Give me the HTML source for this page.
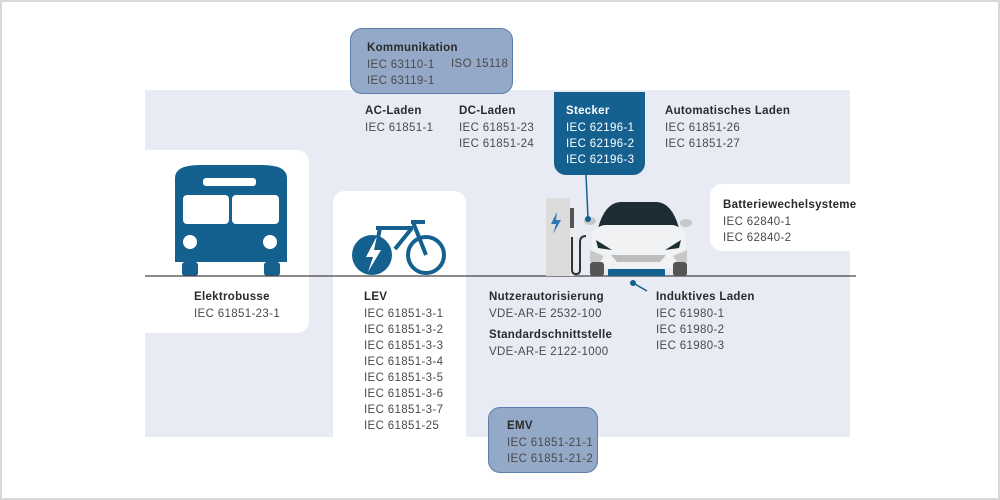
<!DOCTYPE html>
<html><head><meta charset="utf-8"><style>
*{margin:0;padding:0;box-sizing:border-box}
body{width:1000px;height:500px;background:#fff;position:relative;overflow:hidden;font-family:"Liberation Sans",sans-serif;color:#4a4a4a}
.frame{position:absolute;left:0;top:0;width:1000px;height:500px;border:2px solid #d9d9d9}
.a{position:absolute}
.t{position:absolute;font-size:11.5px;line-height:16px;white-space:nowrap;letter-spacing:0.35px}
.t b{font-weight:bold;color:#2a2a2a;display:block;margin-bottom:1px;letter-spacing:0.3px}
</style></head><body>
<div class="frame"></div>
<div class="a" style="left:145px;top:90px;width:705px;height:347px;background:#e8ebf4"></div>
<div class="a" style="left:145px;top:150px;width:164px;height:183px;background:#fff;border-radius:0 12px 12px 0"></div>
<div class="a" style="left:333px;top:191px;width:133px;height:246px;background:#fff;border-radius:12px 12px 0 0"></div>
<div class="a" style="left:710px;top:184px;width:145px;height:67px;background:#fff;border-radius:12px 0 0 12px"></div>
<div class="a" style="left:350px;top:28px;width:163px;height:66px;background:#94a9c7;border:1.5px solid #5b7fab;border-radius:12px"></div>
<div class="a" style="left:554px;top:92px;width:91px;height:83px;background:#14618f;border-radius:0 0 12px 12px"></div>
<div class="a" style="left:488px;top:407px;width:110px;height:66px;background:#94a9c7;border:1.5px solid #5b7fab;border-radius:12px"></div>

<svg class="a" style="left:0;top:0" width="1000" height="500">
<g fill="#14618f">
<path d="M175 178 Q175 165 200 165 L262 165 Q287 165 287 178 L287 262 L175 262Z"/>
<rect x="182" y="262" width="16" height="14" rx="3"/>
<rect x="264" y="262" width="16" height="14" rx="3"/>
</g>
<rect x="203" y="178" width="53" height="8" rx="3" fill="#fff"/>
<rect x="183" y="195" width="46" height="29" rx="4" fill="#fff"/>
<rect x="232" y="195" width="47" height="29" rx="4" fill="#fff"/>
<circle cx="190" cy="242" r="7" fill="#fff"/>
<circle cx="270" cy="242" r="7" fill="#fff"/>
<circle cx="372" cy="255" r="20" fill="#14618f"/>
<path d="M377 236 L366 257 L373 257 L368 272 L381 250 L374 250Z" fill="#fff"/>
<circle cx="426" cy="255" r="18" fill="none" stroke="#14618f" stroke-width="4"/>
<path d="M376 228 L413 228 M411 222 L425 222 M413 222 L426 255 M380 228 L378 238 M412 228 L395 249" stroke="#14618f" stroke-width="4" fill="none"/>
<line x1="145" y1="276" x2="856" y2="276" stroke="#444" stroke-width="1.2"/>
<rect x="546" y="198" width="24" height="78" fill="#dcdcdc"/>
<rect x="570" y="207" width="4" height="69" fill="#e9e9e9"/>
<rect x="570" y="208" width="4" height="20" fill="#555"/>
<path d="M557 212 L551 224 L556 224 L553 234 L561 220 L556 220Z" fill="#2a7ab8"/>
<path d="M572 237 L572 270 Q572 274 576 274 Q580 274 580 270 L580 242 Q580 236 586 236" stroke="#333" stroke-width="2" fill="none"/>
<ellipse cx="590" cy="221" rx="6" ry="4" fill="#c8c8c8"/>
<ellipse cx="686" cy="223" rx="6" ry="4" fill="#c8c8c8"/>
<path d="M598 228 Q605 203 620 202 L657 202 Q672 203 679 228Z" fill="#1e2c33"/>
<path d="M592 236 Q595 226 605 225 L672 225 Q682 226 685 236 L687 268 L590 268Z" fill="#f1f2f3"/>
<path d="M596 240 L612 250 L598 248Z M681 240 L665 250 L679 248Z" fill="#1e2c33"/>
<path d="M611 255 L666 255 L660 262 L617 262Z" fill="#bdbdbd"/>
<path d="M590 250 L604 256 L600 262 L590 262Z M687 250 L673 256 L677 262 L687 262Z" fill="#c8c8c8"/>
<rect x="590" y="262" width="14" height="14" rx="3" fill="#555"/>
<rect x="673" y="262" width="14" height="14" rx="3" fill="#555"/>
<rect x="608" y="269" width="57" height="7" rx="1" fill="#14618f"/>
<line x1="586" y1="175" x2="588" y2="218" stroke="#14618f" stroke-width="1.5"/>
<circle cx="588" cy="219" r="3" fill="#14618f"/>
<line x1="633" y1="283" x2="647" y2="291" stroke="#14618f" stroke-width="1.5"/>
<circle cx="633" cy="283" r="3" fill="#14618f"/>
</svg>

<div class="t" style="left:367px;top:40px"><b>Kommunikation</b>IEC 63110-1<br>IEC 63119-1</div>
<div class="t" style="left:451px;top:56px">ISO 15118</div>
<div class="t" style="left:365px;top:103px"><b>AC-Laden</b>IEC 61851-1</div>
<div class="t" style="left:459px;top:103px"><b>DC-Laden</b>IEC 61851-23<br>IEC 61851-24</div>
<div class="t" style="left:566px;top:103px;color:#fff"><b style="color:#fff">Stecker</b>IEC 62196-1<br>IEC 62196-2<br>IEC 62196-3</div>
<div class="t" style="left:665px;top:103px"><b>Automatisches Laden</b>IEC 61851-26<br>IEC 61851-27</div>
<div class="t" style="left:723px;top:197px"><b>Batteriewechelsysteme</b>IEC 62840-1<br>IEC 62840-2</div>
<div class="t" style="left:194px;top:289px"><b>Elektrobusse</b>IEC 61851-23-1</div>
<div class="t" style="left:364px;top:289px"><b>LEV</b>IEC 61851-3-1<br>IEC 61851-3-2<br>IEC 61851-3-3<br>IEC 61851-3-4<br>IEC 61851-3-5<br>IEC 61851-3-6<br>IEC 61851-3-7<br>IEC 61851-25</div>
<div class="t" style="left:489px;top:289px"><b>Nutzerautorisierung</b>VDE-AR-E 2532-100</div>
<div class="t" style="left:489px;top:327px"><b>Standardschnittstelle</b>VDE-AR-E 2122-1000</div>
<div class="t" style="left:656px;top:289px"><b>Induktives Laden</b>IEC 61980-1<br>IEC 61980-2<br>IEC 61980-3</div>
<div class="t" style="left:507px;top:418px"><b>EMV</b>IEC 61851-21-1<br>IEC 61851-21-2</div>
</body></html>
